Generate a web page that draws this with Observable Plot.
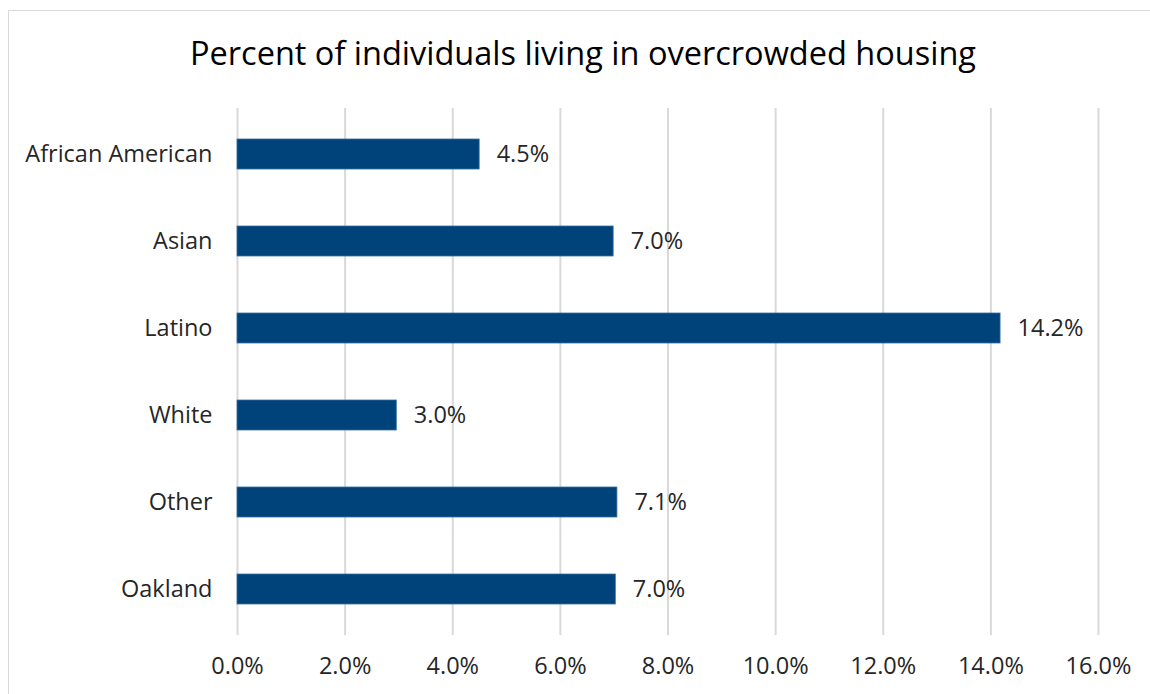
<!DOCTYPE html>
<html>
<head>
<meta charset="utf-8">
<script src="https://cdn.jsdelivr.net/npm/d3@7"></script>
<script src="https://cdn.jsdelivr.net/npm/@observablehq/plot@0.6"></script>
<style>
  html, body { margin: 0; padding: 0; background: #fff; }
  #wrap { position: relative; width: 1150px; height: 694px; overflow: hidden; }
  #border { position: absolute; left: 8px; top: 10px; width: 1160px; height: 700px; border: 1.5px solid #d9d9d9; box-sizing: border-box; }
  #title { position: absolute; left: 0; width: 1166px; top: 31px; text-align: center; font-family: "Open Sans", Lato, sans-serif; font-size: 32.5px; line-height: 44px; color: #000; }
  #chart { position: absolute; left: 0; top: 0; }
</style>
</head>
<body>
<div id="wrap">
  <div id="border"></div>
  <div id="title">Percent of individuals living in overcrowded housing</div>
  <div id="chart"></div>
</div>
<script>
const categories = ["African American", "Asian", "Latino", "White", "Other", "Oakland"];
const values = [4.5, 6.99, 14.18, 2.96, 7.06, 7.03];
const xTicks = [0, 2, 4, 6, 8, 10, 12, 14, 16];

const data = categories.map((c, i) => ({category: c, value: values[i]}));
const fmt = v => v.toFixed(1) + "%";

const chart = Plot.plot({
  width: 1150,
  height: 694,
  marginTop: 108,
  marginBottom: 59,
  marginLeft: 237,
  marginRight: 52,
  style: {fontFamily: "'Open Sans', Lato, sans-serif", fontSize: "23.5px", color: "#262626", background: "transparent"},
  x: {domain: [0, 16], ticks: xTicks, tickFormat: fmt, tickSize: 0, tickPadding: 22, label: null},
  y: {domain: categories, paddingInner: 0.65, paddingOuter: 0.325, tickSize: 0, tickPadding: 25, label: null},
  marks: [
    Plot.gridX(xTicks, {stroke: "#d9d9d9", strokeOpacity: 1, strokeWidth: 2}),
    Plot.barX(data, {x: "value", y: "category", fill: "#00427a", stroke: "#3a6fa0", strokeWidth: 0.8}),
    Plot.text(data, {x: "value", y: "category", text: d => fmt(d.value), textAnchor: "start", dx: 17, fill: "#262626", fontSize: 23.5}),
    Plot.axisX({ticks: xTicks, tickFormat: fmt, tickSize: 0, tickPadding: 22, fontSize: 23.5, label: null}),
    Plot.axisY({tickSize: 0, tickPadding: 25, fontSize: 23.5, label: null})
  ]
});
document.getElementById("chart").appendChild(chart);
</script>
</body>
</html>
